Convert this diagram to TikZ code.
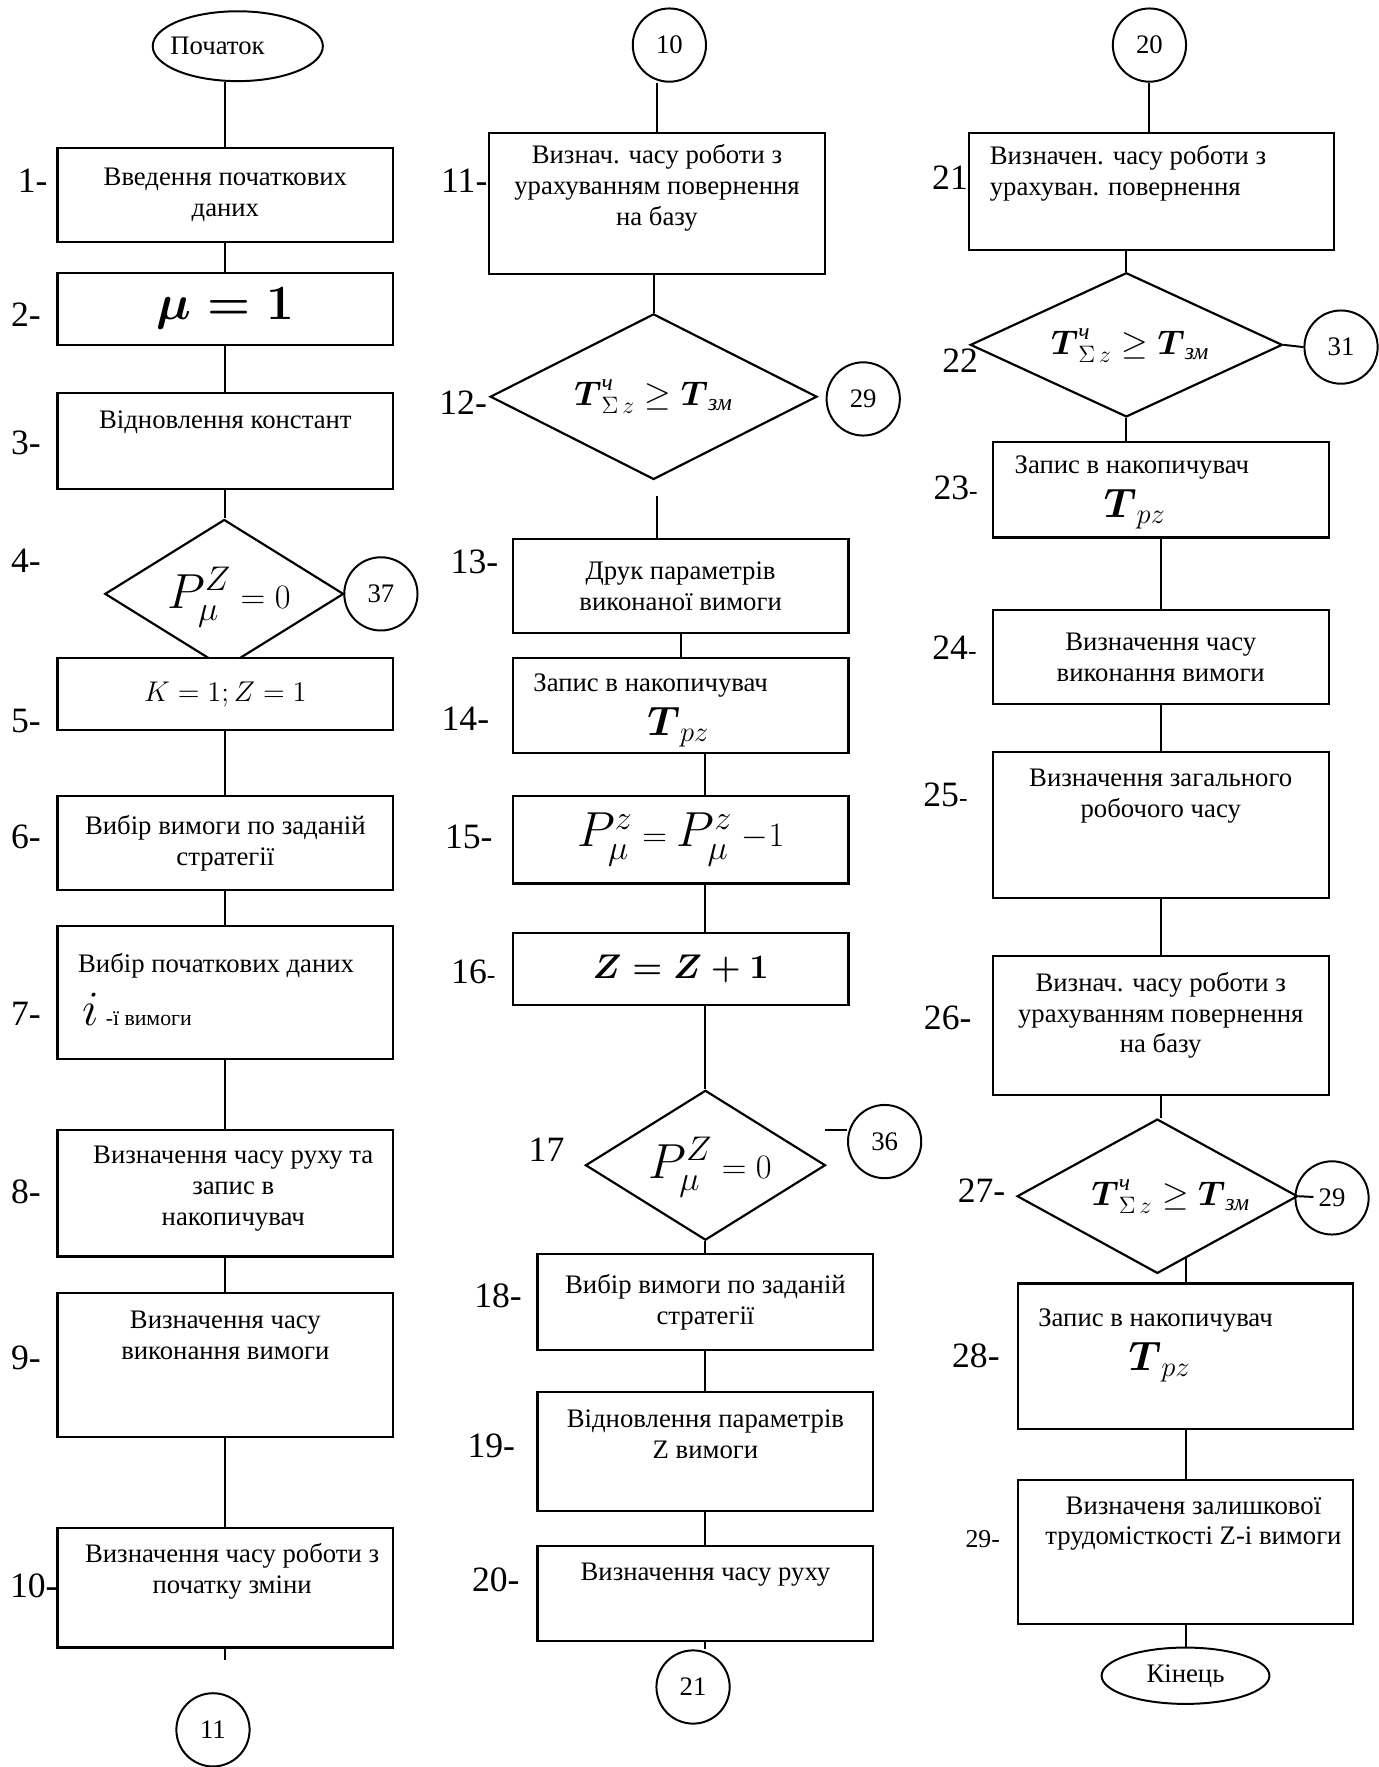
\documentclass[tikz,border=0pt]{standalone}
\usepackage{amsmath}
\usepackage{fontspec}
\setmainfont{Liberation Serif}
\usetikzlibrary{shapes.geometric}

\begin{document}
\begin{tikzpicture}[
    x=0.02cm, y=-0.02cm,
    box/.style={draw, fill=white, line width=1.1pt, inner sep=0pt, minimum width=5.96cm, align=center, font=\fontsize{13.5}{15.6}\selectfont},
    cond/.style={diamond, draw, line width=1.1pt, inner sep=0pt},
    conn/.style={circle, draw, line width=1pt, inner sep=0pt, minimum size=1.3cm, font=\fontsize{13.5}{15}\selectfont},
    term/.style={ellipse, draw, line width=1pt, inner sep=0pt, font=\fontsize{13.5}{15}\selectfont},
    txt/.style={align=center, inner sep=0pt, font=\fontsize{13.5}{15.6}\selectfont},
    num/.style={inner sep=0pt, font=\fontsize{18}{18}\selectfont},
    link/.style={line width=1pt}
  ]
    \useasboundingbox (0,0) rectangle (1223,1568);

    % --- LEFT column: steps 1-10 ---
    \node[term, minimum width=3.02cm, minimum height=1.24cm] (start) at (211,41) {};
    \node[txt] at (193,41) {Початок};
    \node[box, minimum height=1.68cm] (b1) at (200,173) {Введення початкових\\даних};
    \node[box, minimum height=1.28cm] (b2) at (200,274) {\fontsize{30}{30}\selectfont$\boldsymbol{\mu = 1}$};
    \node[box, minimum height=1.70cm] (b3) at (200,391.5) {};
    \node[txt] at (200,375) {Відновлення констант};
    \node[cond, minimum width=4.24cm, minimum height=2.64cm] (d4) at (199,527) {};
    \node[txt] at (203,530) {\fontsize{24}{24}\selectfont$P^{Z}_{\mu}\mbox{\fontsize{18}{18}\selectfont$\;=0$}$};
    \node[conn] (c37) at (338,527) {37};
    \node[box, minimum height=1.28cm] (b5) at (200,616) {\fontsize{14}{14}\selectfont$K = 1; Z = 1$};
    \node[box, minimum height=1.68cm] (b6) at (200,748) {Вибір вимоги по заданій\\стратегії};
    \node[box, minimum height=2.36cm] (b7) at (200,881) {};
    \node[txt, anchor=west] at (69,857) {Вибір початкових даних};
    \node[txt, anchor=west] at (73,896) {{\fontsize{28}{28}\selectfont$i$} {\fontsize{11}{11}\selectfont-ї вимоги}};
    \node[box, minimum height=2.24cm] (b8) at (200,1059) {};
    \node[txt] at (207,1055) {Визначення часу руху та\\запис в\\накопичувач};
    \node[box, minimum height=2.56cm] (b9) at (200,1211) {};
    \node[txt] at (200,1185) {Визначення часу\\виконання вимоги};
    \node[box, minimum height=2.12cm] (b10) at (200,1409) {};
    \node[txt] at (206,1394) {Визначення часу роботи з\\початку зміни};
    \coordinate (g11) at (200,1473);
    \node[conn] (c11) at (189,1535) {11};

    % step numbers
    \node[num] at (29,160) {1-};
    \node[num] at (23,279) {2-};
    \node[num] at (23,393) {3-};
    \node[num] at (23,498) {4-};
    \node[num] at (23,640) {5-};
    \node[num] at (23,743) {6-};
    \node[num] at (23,900) {7-};
    \node[num] at (23,1058) {8-};
    \node[num] at (23,1205) {9-};
    \node[num] at (30,1407) {10-};

    \draw[link] (b1.north) -- (b1.north |- start.south);
    \draw[link] (b1) -- (b2);
    \draw[link] (b2) -- (b3);
    \draw[link] (b3.south) -- (b3.south |- d4.north);
    \draw[link] (b5) -- (b6);
    \draw[link] (b6) -- (b7);
    \draw[link] (b7) -- (b8);
    \draw[link] (b8) -- (b9);
    \draw[link] (b9) -- (b10);
    \draw[link] (b10.south) -- (g11);

    % --- MIDDLE column: steps 11-20 ---
    \node[conn] (c10) at (594,40) {10};
    \node[box, minimum height=2.5cm] (b11) at (583,180.5) {};
    \node[txt] at (583,167) {Визнач. часу роботи з\\урахуванням повернення\\на базу};
    \node[cond, minimum width=5.8cm, minimum height=2.94cm] (d12) at (580,352) {};
    \node[txt] at (580,352) {\fontsize{17}{17}\selectfont$\boldsymbol{T}^{\text{\itshape ч}}_{\Sigma\,z}\geq\boldsymbol{T}_{\text{\itshape зм}}$};
    \node[conn] (c29) at (766,354) {29};
    \coordinate (g13) at (583,440);
    \node[box, minimum height=1.68cm] (b13) at (604,520) {Друк параметрів\\виконаної вимоги};
    \node[box, minimum height=1.68cm] (b14) at (604,626) {};
    \node[txt, anchor=west] at (473,608) {Запис в накопичувач};
    \node[txt] at (602,645) {\fontsize{22}{22}\selectfont$\boldsymbol{T}_{pz}$};
    \node[box, minimum height=1.56cm] (b15) at (604,745) {\fontsize{24}{24}\selectfont$P^{z}_{\mu}\mbox{\fontsize{18}{18}\selectfont$\;=\;$}P^{z}_{\mu}\mbox{\fontsize{18}{18}\selectfont$\;-1$}$};
    \node[box, minimum height=1.28cm] (b16) at (604,860) {\fontsize{19}{19}\selectfont$\boldsymbol{Z = Z + 1}$};
    \node[cond, minimum width=4.26cm, minimum height=2.66cm] (d17) at (626,1034) {};
    \node[txt] at (630,1036) {\fontsize{24}{24}\selectfont$P^{Z}_{\mu}\mbox{\fontsize{18}{18}\selectfont$\;=0$}$};
    \node[conn] (c36) at (785,1013) {36};
    \coordinate (g36) at (732,1003);
    \node[box, minimum height=1.70cm] (b18) at (626,1155.5) {Вибір вимоги по заданій\\стратегії};
    \node[box, minimum height=2.12cm] (b19) at (626,1288) {};
    \node[txt] at (626,1273) {Відновлення параметрів\\Z вимоги};
    \node[box, minimum height=1.68cm] (b20) at (626,1414) {};
    \node[txt] at (626,1397) {Визначення часу руху};
    \node[conn] (c21) at (615,1497) {21};

    % step numbers
    \node[num] at (412,160) {11-};
    \node[num] at (411,357) {12-};
    \node[num] at (421,499) {13-};
    \node[num] at (413,638) {14-};
    \node[num] at (416,743) {15-};
    \node[num] at (420,862) {16{\fontsize{13}{13}\selectfont-}};
    \node[num] at (485,1020) {17};
    \node[num] at (442,1150) {18-};
    \node[num] at (436,1283) {19-};
    \node[num] at (440,1402) {20-};

    \draw[link] (b11.north) -- (b11.north |- c10.south);
    \draw[link] (d12.north) -- (d12.north |- b11.south);
    \draw[link] (g13) -- (g13 |- b13.north);
    \draw[link] (b13) -- (b14);
    \draw[link] ([xshift=0.44cm]b14.south) -- ([xshift=0.44cm]b15.north);
    \draw[link] ([xshift=0.44cm]b15.south) -- ([xshift=0.44cm]b16.north);
    \draw[link] (b16.south -| d17.north) -- (d17.north);
    \draw[link] (d17.south) -- (b18.north);
    \draw[link] (g36) -- (c36.west |- g36);
    \draw[link] (b18) -- (b19);
    \draw[link] (b19) -- (b20);
    \draw[link] (b20.south) -- (b20.south |- c21.north);

    % --- RIGHT column: steps 21-29 ---
    \node[conn] (c20) at (1020,40) {20};
    \node[box, minimum width=6.48cm, minimum height=2.08cm] (b21) at (1022,170) {};
    \node[txt, anchor=west, align=left] at (878,153.5) {Визначен. часу роботи з\\урахуван. повернення};
    \node[cond, minimum width=5.54cm, minimum height=2.56cm] (d22) at (999.5,306) {};
    \node[txt] at (1003,307) {\fontsize{17}{17}\selectfont$\boldsymbol{T}^{\text{\itshape ч}}_{\Sigma\,z}\geq\boldsymbol{T}_{\text{\itshape зм}}$};
    \node[conn] (c31) at (1190,308) {31};
    \node[box, minimum height=1.70cm] (b23) at (1030,434.5) {};
    \node[txt, anchor=west] at (900,415) {Запис в накопичувач};
    \node[txt] at (1007,452) {\fontsize{22}{22}\selectfont$\boldsymbol{T}_{pz}$};
    \node[box, minimum height=1.68cm] (b24) at (1030,583) {Визначення часу\\виконання вимоги};
    \node[box, minimum height=2.6cm] (b25) at (1030,732) {};
    \node[txt] at (1030,706.5) {Визначення загального\\робочого часу};
    \node[box, minimum height=2.48cm] (b26) at (1030,910) {};
    \node[txt] at (1030,901) {Визнач. часу роботи з\\урахуванням повернення\\на базу};
    \node[cond, minimum width=4.98cm, minimum height=2.74cm] (d27) at (1027,1061.5) {};
    \node[txt] at (1039,1062) {\fontsize{17}{17}\selectfont$\boldsymbol{T}^{\text{\itshape ч}}_{\Sigma\,z}\geq\boldsymbol{T}_{\text{\itshape зм}}$};
    \node[conn] (c29b) at (1182,1063) {29};
    \node[box, minimum height=2.58cm] (b28) at (1052,1203.5) {};
    \node[txt, anchor=west] at (921,1172) {Запис в накопичувач};
    \node[txt] at (1029,1209) {\fontsize{22}{22}\selectfont$\boldsymbol{T}_{pz}$};
    \node[box, minimum height=2.56cm] (b29) at (1052,1377) {};
    \node[txt] at (1059,1352) {Визначеня залишкової\\трудомісткості Z-і вимоги};
    \node[term, minimum width=2.98cm, minimum height=1.0cm] (fin) at (1052,1487) {Кінець};

    % step numbers
    \node[num] at (843,158) {21};
    \node[num] at (852,320) {22};
    \node[num] at (848,433) {23{\fontsize{13}{13}\selectfont-}};
    \node[num] at (847,575) {24{\fontsize{13}{13}\selectfont-}};
    \node[num] at (839,705) {25{\fontsize{13}{13}\selectfont-}};
    \node[num] at (841,903) {26-};
    \node[num] at (871,1057) {27-};
    \node[num] at (866,1203) {28-};
    \node[num, font=\fontsize{13}{13}\selectfont] at (872,1366) {29-};

    \draw[link] (b21.north -| c20.south) -- (c20.south);
    \draw[link] (b21.south -| d22.north) -- (d22.north);
    \draw[link] (d22.south) -- (d22.south |- b23.north);
    \draw[link] (d22.east) -- (c31.west);
    \draw[link] (b23) -- (b24);
    \draw[link] (b24) -- (b25);
    \draw[link] (b25) -- (b26);
    \draw[link] (b26.south) -- (b26.south |- d27.north);
    \draw[link, shorten >=0.33cm] (d27.east) -- (c29b.center);
    \draw[link] (b28.north) -- ([yshift=0.3cm]b28.north |- d27.south);
    \draw[link] (b28) -- (b29);
    \draw[link] (b29) -- (fin);
  \end{tikzpicture}
\end{document}
